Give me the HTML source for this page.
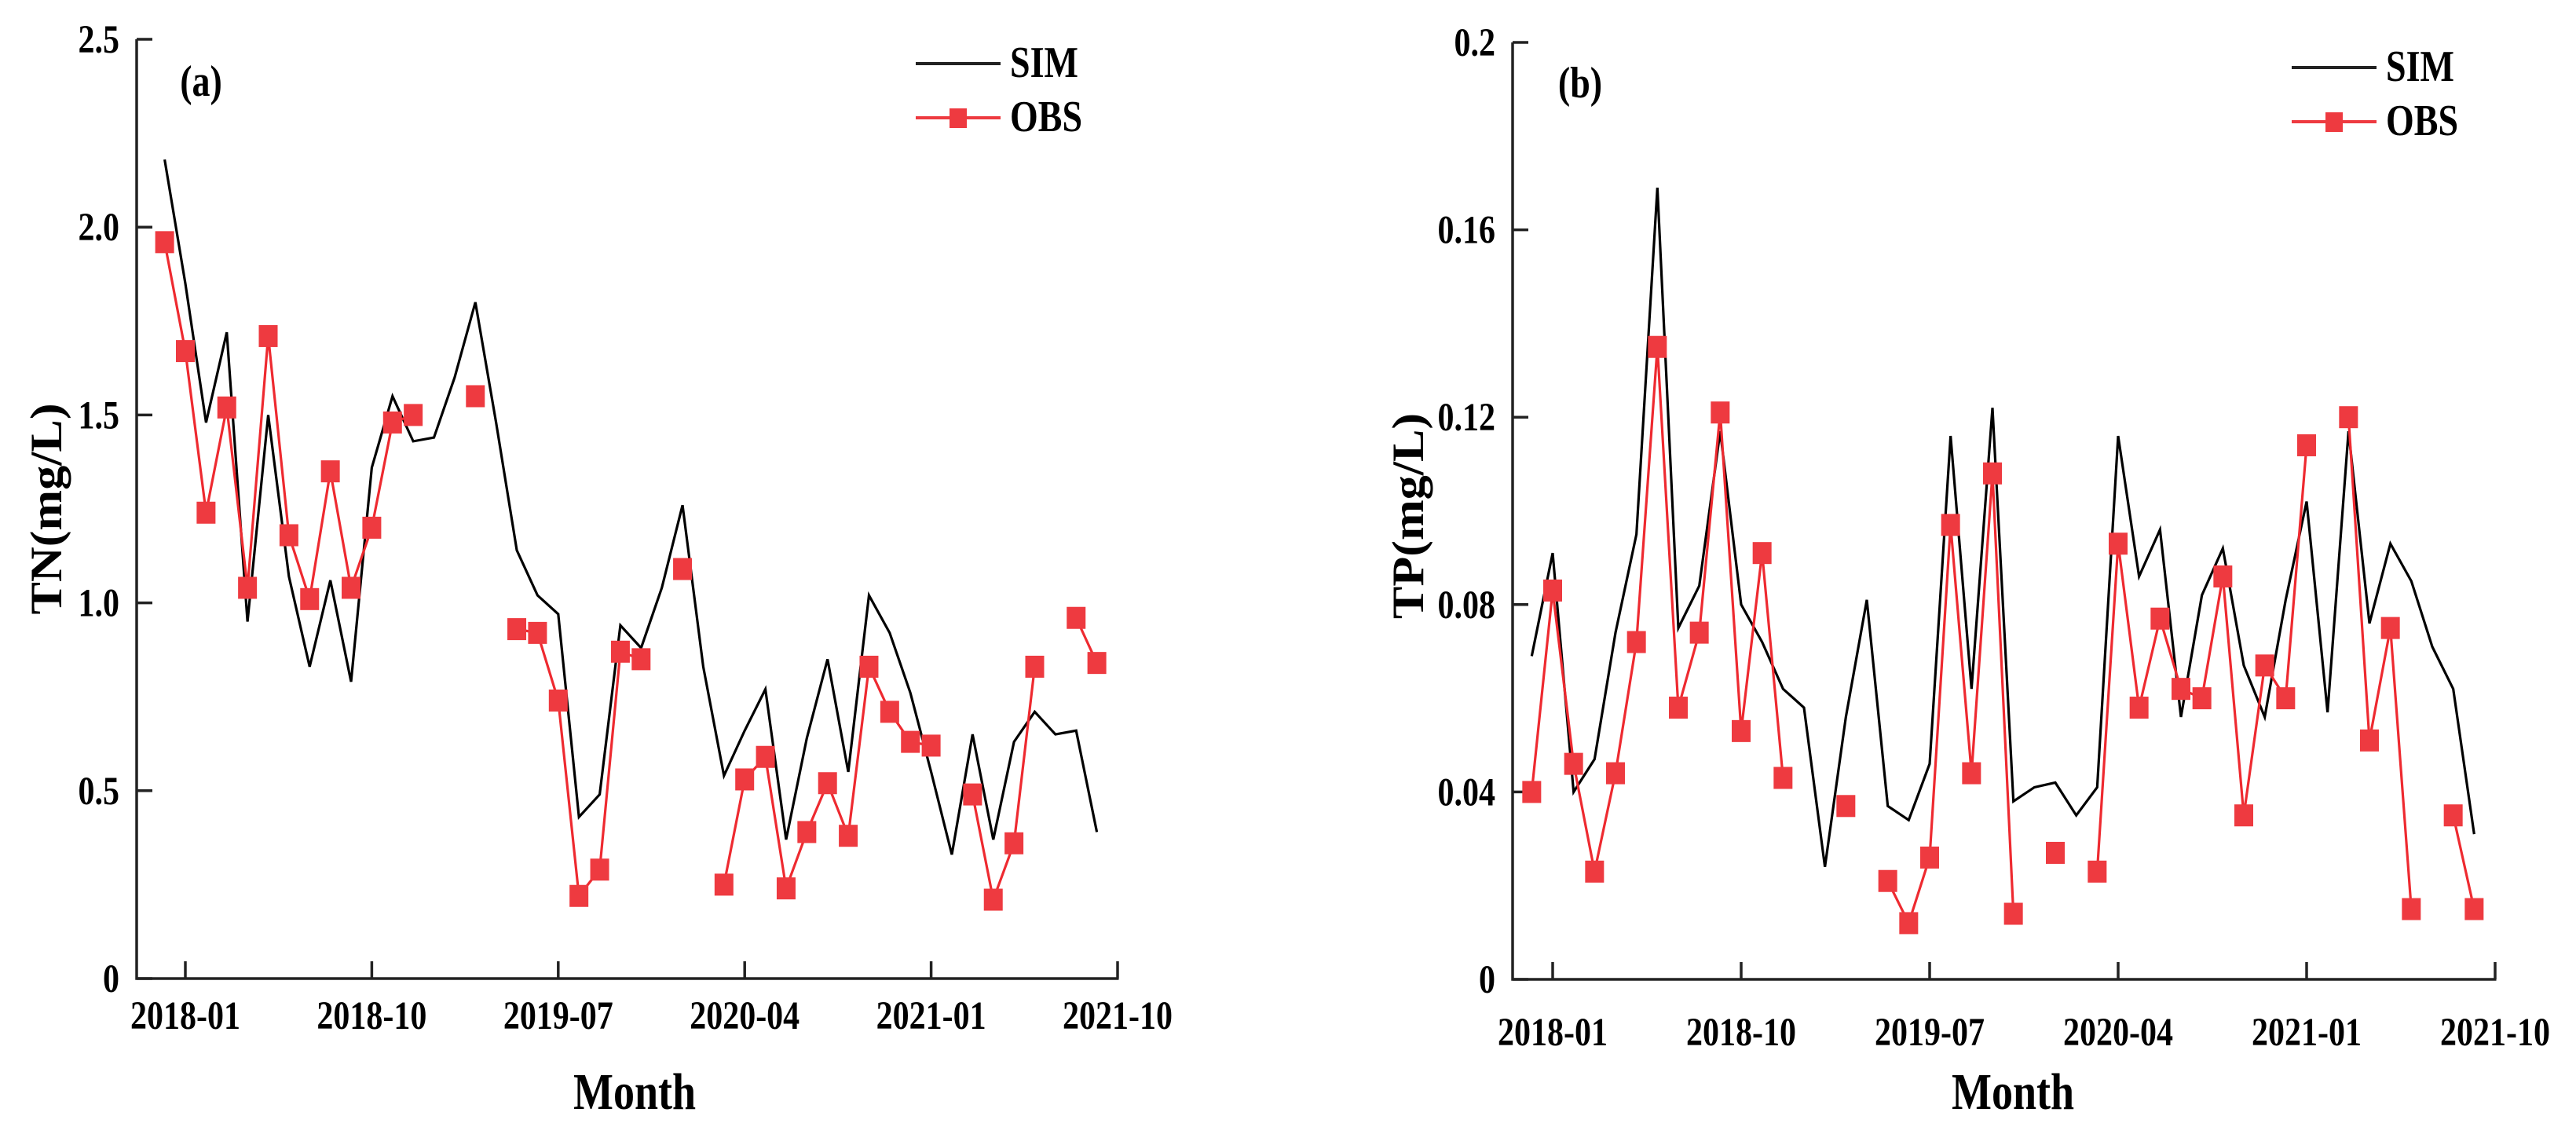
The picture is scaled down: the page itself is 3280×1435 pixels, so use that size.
<!DOCTYPE html>
<html><head><meta charset="utf-8"><style>
html,body{margin:0;padding:0;background:#fff;}
svg{display:block;}
text{font-family:"Liberation Serif","Times New Roman",serif;font-weight:bold;fill:#000;}
</style></head><body>
<svg id="chart" width="3280" height="1435" viewBox="0 0 3280 1435" xmlns="http://www.w3.org/2000/svg"></svg>
<script>
// month index 0 = 2017-12
const tnSim = [2.18,1.85,1.48,1.72,0.95,1.50,1.07,0.83,1.06,0.79,1.36,1.55,1.43,1.44,1.60,1.80,1.48,1.14,1.02,0.97,0.43,0.49,0.94,0.88,1.04,1.26,0.83,0.54,0.66,0.77,0.37,0.64,0.85,0.55,1.02,0.92,0.76,0.55,0.33,0.65,0.37,0.63,0.71,0.65,0.66,0.39];
const tnObs = [1.96,1.67,1.24,1.52,1.04,1.71,1.18,1.01,1.35,1.04,1.20,1.48,1.50,null,null,1.55,null,0.93,0.92,0.74,0.22,0.29,0.87,0.85,null,1.09,null,0.25,0.53,0.59,0.24,0.39,0.52,0.38,0.83,0.71,0.63,0.62,null,0.49,0.21,0.36,0.83,null,0.96,0.84];
const tpSim = [0.069,0.091,0.040,0.047,0.074,0.095,0.169,0.075,0.084,0.117,0.080,0.072,0.062,0.058,0.024,0.056,0.081,0.037,0.034,0.046,0.116,0.062,0.122,0.038,0.041,0.042,0.035,0.041,0.116,0.086,0.096,0.056,0.082,0.092,0.067,0.056,0.081,0.102,0.057,0.117,0.076,0.093,0.085,0.071,0.062,0.031];
const tpObs = [0.040,0.083,0.046,0.023,0.044,0.072,0.135,0.058,0.074,0.121,0.053,0.091,0.043,null,null,0.037,null,0.021,0.012,0.026,0.097,0.044,0.108,0.014,null,0.027,null,0.023,0.093,0.058,0.077,0.062,0.060,0.086,0.035,0.067,0.060,0.114,null,0.120,0.051,0.075,0.015,null,0.035,0.015];
const xTickLabels = ["2018-01","2018-10","2019-07","2020-04","2021-01","2021-10"];
const xTickMonths = [1,10,19,28,37,46];
const tnTicks = [0,0.5,1.0,1.5,2.0,2.5];
const tnTickLabels = ["0","0.5","1.0","1.5","2.0","2.5"];
const tpTicks = [0,0.04,0.08,0.12,0.16,0.2];
const tpTickLabels = ["0","0.04","0.08","0.12","0.16","0.2"];

const NS="http://www.w3.org/2000/svg";
const svg=document.getElementById('chart');
const SY=1.22;
function mk(tag,attrs,parent){const e=document.createElementNS(NS,tag);for(const k in attrs)e.setAttribute(k,attrs[k]);(parent||svg).appendChild(e);return e;}
// text with baseline at (x,y), vertically stretched
function txt(parent,x,y,str,size,anchor){
  const t=mk('text',{x:0,y:0,'font-size':size,'text-anchor':anchor||'start',transform:`translate(${x},${y}) scale(1,${SY})`},parent);
  t.textContent=str;return t;
}

function panel(cfg){
  const g=mk('g',{});
  
  
  const x=m=>cfg.x0+(m-1)*(cfg.x1-cfg.x0)/45;
  const y=v=>cfg.y0-(v/cfg.ymax)*(cfg.y0-cfg.yTop);
  const ax=mk('path',{d:`M${cfg.ax} ${y(cfg.ymax)} L${cfg.ax} ${cfg.y0} L${x(46)+1.5} ${cfg.y0}`,fill:'none',stroke:'#222','stroke-width':3.5},g);
  
  
  cfg.ticks.forEach((t,i)=>{
    mk('line',{x1:cfg.ax,x2:cfg.ax+20,y1:y(t),y2:y(t),stroke:'#222','stroke-width':3.5},g);
    const tl=txt(g,cfg.ax-22,y(t)+17,cfg.tickLabels[i],42,'end');
    
    
  });
  xTickMonths.forEach((m,i)=>{
    mk('line',{x1:x(m),x2:x(m),y1:cfg.y0,y2:cfg.y0-22,stroke:'#222','stroke-width':3.5},g);
    const tl=txt(g,x(m),cfg.xly,xTickLabels[i],42,'middle');
    
    
  });
  const sp=cfg.sim.map((v,i)=>(i?'L':'M')+x(i)+' '+y(v)).join(' ');
  const sl=mk('path',{d:sp,fill:'none',stroke:'#000','stroke-width':3.2},g);
  
  
  let d='';
  for(let i=1;i<cfg.obs.length;i++){
    if(cfg.obs[i]!=null&&cfg.obs[i-1]!=null)d+=`M${x(i-1)} ${y(cfg.obs[i-1])} L${x(i)} ${y(cfg.obs[i])} `;
  }
  const ol=mk('path',{d:d,fill:'none',stroke:'#ee2a30','stroke-width':3.2},g);
  
  
  cfg.obs.forEach((v,i)=>{
    if(v==null)return;
    const r=mk('rect',{x:x(i)-12,y:y(v)-14,width:24,height:28,fill:'#ee3a40'},g);
    
    
  });
  const pl=txt(g,cfg.lx,cfg.ly,cfg.label,46,'middle');
  
  
  const yt=mk('text',{x:0,y:0,'text-anchor':'middle','font-size':54,transform:`translate(${cfg.ytx},${cfg.yty}) rotate(-90) scale(1.15,1.05)`},g);
  yt.textContent=cfg.ytitle;
  
  
  const xt=txt(g,cfg.xtx,1412,'Month',54,'middle');
  
  
  const lg=mk('g',{},g);
  
  
  mk('line',{x1:cfg.legX,x2:cfg.legX+108,y1:cfg.legY,y2:cfg.legY,stroke:'#222','stroke-width':4},lg);
  const t1=txt(lg,cfg.legX+120,cfg.legY+17,'SIM',46);
  
  
  mk('line',{x1:cfg.legX,x2:cfg.legX+108,y1:cfg.legY+69,y2:cfg.legY+69,stroke:'#ee3a40','stroke-width':4},lg);
  mk('rect',{x:cfg.legX+43,y:cfg.legY+57,width:22,height:25,fill:'#ee3a40'},lg);
  const t2=txt(lg,cfg.legX+120,cfg.legY+86,'OBS',46);
  
  
}

panel({name:'tn-panel',ax:174,x0:236,x1:1423,y0:1246,yTop:50,ymax:2.5,ticks:tnTicks,tickLabels:tnTickLabels,
  sim:tnSim,obs:tnObs,label:'(a)',lx:256,ly:122,ytitle:'TN(mg/L)',ytx:78,yty:648,xtx:808,legX:1166,legY:81,xly:1310});
panel({name:'tp-panel',ax:1926,x0:1977,x1:3177,y0:1247,yTop:54,ymax:0.2,ticks:tpTicks,tickLabels:tpTickLabels,
  sim:tpSim,obs:tpObs,label:'(b)',lx:2012,ly:124,ytitle:'TP(mg/L)',ytx:1812,yty:657,xtx:2563,legX:2918,legY:86,xly:1331});
</script>
</body></html>
